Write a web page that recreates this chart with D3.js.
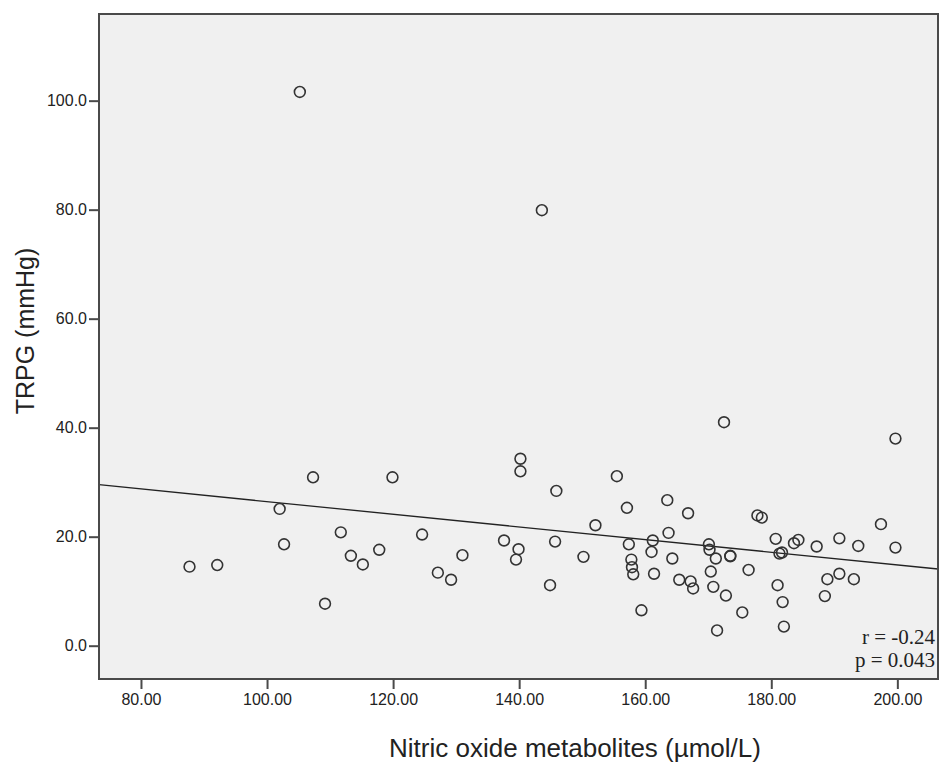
<!DOCTYPE html>
<html>
<head>
<meta charset="utf-8">
<script src="https://cdn.jsdelivr.net/npm/d3@7"></script>
<style>
  body { margin: 0; background: #fff; }
  text { font-family: "Liberation Sans", Arial, sans-serif; fill: #222; }
</style>
</head>
<body>
<div id="chart"></div>
<script>
"use strict";
// nitric oxide metabolites (x) and TRPG (y), one entry per patient
var noxValues = [105.2, 143.6, 87.7, 92.1, 102.0, 102.7, 107.3, 109.2, 111.7, 113.3,
    115.2, 117.8, 119.9, 124.6, 127.1, 129.2, 131.0, 137.6, 139.9, 139.5,
    140.2, 140.2, 145.9, 145.7, 144.9, 150.2, 152.1, 155.5, 157.1, 157.4,
    157.8, 157.9, 158.1, 159.4, 161.2, 161.0, 161.4, 172.5, 199.7, 163.5,
    166.8, 163.7, 164.3, 165.4, 167.2, 167.6, 170.1, 170.2, 171.2, 173.5,
    173.5, 170.4, 170.8, 172.8, 171.4, 176.4, 175.4, 177.8, 178.5, 180.7,
    181.3, 181.7, 181.0, 181.8, 182.0, 183.6, 184.3, 187.2, 190.8, 188.9,
    190.8, 193.1, 188.5, 193.8, 197.4, 199.7];
var trpgValues = [101.6, 79.9, 14.5, 14.8, 25.1, 18.6, 30.9, 7.7, 20.8, 16.5,
    14.9, 17.6, 30.9, 20.4, 13.4, 12.1, 16.6, 19.3, 17.7, 15.8,
    34.3, 32.0, 28.4, 19.1, 11.1, 16.3, 22.1, 31.1, 25.3, 18.6,
    15.8, 14.4, 13.1, 6.5, 19.3, 17.2, 13.2, 41.0, 38.0, 26.7,
    24.3, 20.7, 16.0, 12.1, 11.8, 10.5, 18.6, 17.6, 16.0, 16.4,
    16.5, 13.6, 10.8, 9.2, 2.8, 13.9, 6.1, 23.9, 23.5, 19.6,
    16.9, 17.1, 11.1, 8.0, 3.5, 18.8, 19.4, 18.2, 19.7, 12.2,
    13.2, 12.2, 9.1, 18.3, 22.3, 18.0];
var xTicks = [80, 100, 120, 140, 160, 180, 200];
var yTicks = [0, 20, 40, 60, 80, 100];
// fit line: trpg = intercept + slope * nox
var fitIntercept = 38.06, fitSlope = -0.1162;
var statLines = ["r = -0.24", "p = 0.043"];

var width = 940, height = 763;
var margin = {top: 14, right: 2, bottom: 84, left: 99};

var svg = d3.select("#chart").append("svg")
    .attr("width", width).attr("height", height);

var x = d3.scaleLinear().domain([73.34, 206.45]).range([margin.left, width - margin.right]);
var y = d3.scaleLinear().domain([-6.11, 115.9]).range([height - margin.bottom, margin.top]);

// fond de la zone de tracé
svg.append("rect")
    .attr("x", margin.left).attr("y", margin.top)
    .attr("width", width - margin.left - margin.right)
    .attr("height", height - margin.top - margin.bottom)
    .attr("fill", "#f0f0f0");

// droite de régression
var xd = x.domain();
svg.append("line")
    .attr("x1", x(xd[0])).attr("y1", y(fitIntercept + fitSlope * xd[0]))
    .attr("x2", x(xd[1])).attr("y2", y(fitIntercept + fitSlope * xd[1]))
    .attr("stroke", "#222").attr("stroke-width", 1.3);

// points
svg.append("g").selectAll("circle")
    .data(d3.range(noxValues.length))
    .join("circle")
    .attr("cx", i => x(noxValues[i]))
    .attr("cy", i => y(trpgValues[i]))
    .attr("r", 5.4)
    .attr("fill", "none")
    .attr("stroke", "#333")
    .attr("stroke-width", 1.6);

// cadre
svg.append("rect")
    .attr("x", margin.left).attr("y", margin.top)
    .attr("width", width - margin.left - margin.right)
    .attr("height", height - margin.top - margin.bottom)
    .attr("fill", "none").attr("stroke", "#4a4a4a").attr("stroke-width", 2);

// axes
var xAxis = svg.append("g")
    .attr("transform", `translate(0,${height - margin.bottom})`)
    .call(d3.axisBottom(x).tickValues(xTicks).tickFormat(d3.format(".2f")).tickSize(10).tickPadding(5));
var yAxis = svg.append("g")
    .attr("transform", `translate(${margin.left},0)`)
    .call(d3.axisLeft(y).tickValues(yTicks).tickFormat(d3.format(".1f")).tickSize(10).tickPadding(2));
[xAxis, yAxis].forEach(function (a) {
    a.select(".domain").remove();
    a.selectAll(".tick line").attr("stroke", "#4a4a4a").attr("stroke-width", 2);
    a.selectAll(".tick text").attr("font-size", 16).attr("fill", "#222")
        .attr("font-family", "'Liberation Sans', Arial, sans-serif");
});

// titres des axes
svg.append("text")
    .attr("x", 575).attr("y", 757)
    .attr("text-anchor", "middle").attr("font-size", 26)
    .text("Nitric oxide metabolites (µmol/L)");
svg.append("text")
    .attr("transform", "translate(34,331) rotate(-90)")
    .attr("text-anchor", "middle").attr("font-size", 25)
    .text("TRPG (mmHg)");

// r et p
svg.append("g").selectAll("text")
    .data(statLines)
    .join("text")
    .attr("x", 935)
    .attr("y", (d, i) => 644 + i * 23)
    .attr("text-anchor", "end")
    .attr("font-size", 21)
    .style("font-family", "'Liberation Serif', 'Times New Roman', serif")
    .text(d => d);
</script>
</body>
</html>
